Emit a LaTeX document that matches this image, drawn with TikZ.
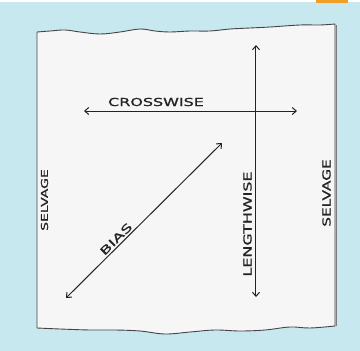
\documentclass[tikz,border=0pt]{standalone}
\usepackage{fontspec}
\setmainfont{DejaVu Sans}
\usetikzlibrary{arrows.meta}
\definecolor{bg}{RGB}{200,232,240}
\definecolor{paper}{RGB}{246,246,246}
\definecolor{ink}{RGB}{35,35,35}
\definecolor{tab}{RGB}{240,160,40}
\tikzset{
  lab/.style={font=\fontsize{11}{12}\selectfont\addfontfeature{FakeBold=0.8}, text=ink, inner sep=0pt},
  smalllab/.style={font=\fontsize{9.5}{10}\selectfont\addfontfeature{FakeBold=0.8}, text=ink, inner sep=0pt},
  arr/.style={draw=ink, line width=1pt, {Straight Barb[length=4pt,width=7pt]}-{Straight Barb[length=4pt,width=7pt]}}
}
\begin{document}
\begin{tikzpicture}[x=1pt,y=-1pt]
\useasboundingbox (0,0) rectangle (360,351);
\fill[bg] (0,0) rectangle (360,351);
\fill[white] (0,0) rectangle (360,2);
\fill[tab] (316,0) rectangle (348,3);
% paper
\draw[ink!85, line width=0.9pt, fill=paper, line join=round]
  plot[smooth, tension=0.6] coordinates {(37,32)(50,31)(65,30)(80,32)(100,34)(120,32)(140,29)(155,31)(170,32)(190,31)(210,31)(230,29)(250,28)(270,27)(300,25)(320,25)(335,24)}
  -- (335,326)
  -- plot[smooth, tension=0.6] coordinates {(335,326)(310,328)(290,327)(265,330)(240,331)(215,330)(190,332)(165,334)(140,331)(115,330)(90,330)(60,329)(37,328)}
  -- cycle;
\draw[ink!60, line width=0.6pt] (336.2,25) -- (336.2,326);
% arrows
\coordinate (lt) at (256,45);
\coordinate (lb) at (256,297);
\coordinate (cl) at (84,111);
\coordinate (cr) at (297,111);
\coordinate (bl) at (66,298);
\coordinate (bt) at (222,143);
\draw[arr] (lt) -- (lb);
\draw[arr] (cl) -- (cr);
\draw[arr] (bl) -- (bt);
% labels
\node[lab, xscale=1.45] (cw) at (156,102) {CROSSWISE};
\node[lab, rotate=90, xscale=1.45] (lw) at (247.5,224) {LENGTHWISE};
\node[lab, rotate=45, xscale=1.6] (bias) at (116,239) {BIAS};
\node[smalllab, rotate=90, xscale=1.47] (sl) at (44.5,200) {SELVAGE};
\node[lab, rotate=90, xscale=1.39] (sr) at (326.5,193) {SELVAGE};
\end{tikzpicture}
\end{document}
